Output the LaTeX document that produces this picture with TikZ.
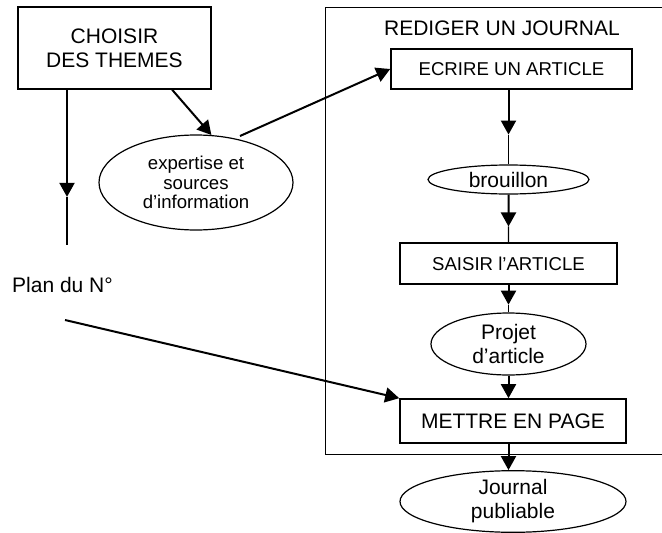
\documentclass[tikz,border=0pt]{standalone}
\usepackage{fontspec}
\setmainfont{Liberation Sans}
\usetikzlibrary{calc}
\usetikzlibrary{shapes.geometric,arrows.meta,positioning}
\tikzstyle{block} = [rectangle, draw, line width=1.6pt, inner sep=0pt, align=center]
\tikzstyle{blob} = [ellipse, draw, line width=1.2pt, inner sep=0pt, align=center]
\tikzstyle{line} = [draw, line width=2pt, -{Triangle[length=14pt,width=15pt]}]
\tikzstyle{tail} = [draw, line width=1.2pt]
\tikzstyle{bigtxt} = [font=\fontsize{21}{24}\selectfont]
\tikzstyle{smalltxt} = [font=\fontsize{18.6}{19.5}\selectfont]

\begin{document}
\begin{tikzpicture}[x=1pt, y=-1pt]
\useasboundingbox (0,0) rectangle (662,533);
%Themes:
\node[block,bigtxt,minimum width=193pt,minimum height=82pt](TH_choose) at (114.5,48){CHOISIR\\DES THEMES};
\node[blob,smalltxt,minimum width=194pt,minimum height=95pt](TH_sources) at (196,182.5){expertise et\\sources\\d’information};
\coordinate (TH_down) at (67,245);
\node[bigtxt,anchor=west,inner sep=0pt](TH_plan) at (12,285){Plan du N°};
\coordinate (TH_plan_out) at (65,320);
\coordinate (TH_tip) at ($(TH_choose.south -| TH_down)!0.69!(TH_down)$);
\path(TH_choose.south -| TH_down)edge[line](TH_tip);
\path(TH_tip)edge[tail](TH_down);
\path(TH_choose.south west)++(155,0)coordinate(TH_c_out);
\path(TH_c_out)edge[line](TH_sources.72);
%Journal frame:
\coordinate (RJ_nw) at (325,7);
\coordinate (RJ_se) at (662,454);
\draw[line width=1pt](RJ_se |- RJ_nw) -- (RJ_nw) |- (RJ_se);
\node[bigtxt](RJ_title) at (502,28){REDIGER UN JOURNAL};
\node[block,smalltxt,minimum width=241pt,minimum height=40pt](RJ_write) at (511.5,69){ECRIRE UN ARTICLE};
\node[blob,bigtxt,minimum width=161pt,minimum height=29pt](RJ_draft) at (508.5,179.5){brouillon};
\node[block,smalltxt,minimum width=217pt,minimum height=41pt](RJ_type) at (508.5,263.5){SAISIR l’ARTICLE};
\node[blob,bigtxt,minimum width=155pt,minimum height=62pt](RJ_proj) at (508.5,344){Projet\\d’article};
\node[block,bigtxt,minimum width=226pt,minimum height=44pt](RJ_layout) at (513,421){METTRE EN PAGE};
\node[blob,bigtxt,minimum width=226pt,minimum height=61pt](RJ_out) at (513,501.5){Journal\\publiable};
%Column arrows:
\coordinate (RJ_tip_a) at ($(RJ_write.south -| RJ_draft)!0.6!(RJ_draft.north)$);
\path(RJ_write.south -| RJ_draft)edge[line](RJ_tip_a);
\path(RJ_tip_a)edge[tail](RJ_draft.north);
\coordinate (RJ_tip_b) at ($(RJ_draft.south)!0.67!(RJ_type.north)$);
\path(RJ_draft.south)edge[line](RJ_tip_b);
\path(RJ_tip_b)edge[tail](RJ_type.north);
\coordinate (RJ_tip_c) at ($(RJ_type.south)!0.72!(RJ_proj.north)$);
\path(RJ_type.south)edge[line](RJ_tip_c);
\path(RJ_tip_c)edge[tail](RJ_proj.north);
\path(RJ_proj.south)edge[line](RJ_layout.north -| RJ_proj);
\path(RJ_layout.south -| RJ_proj)edge[line](RJ_out.north -| RJ_proj);
%Cross arrows:
\path($(TH_sources.center)+(44,-46.5)$)edge[line](RJ_write.west);
\path(TH_plan_out)edge[line](RJ_layout.north west);
\end{tikzpicture}
\end{document}
